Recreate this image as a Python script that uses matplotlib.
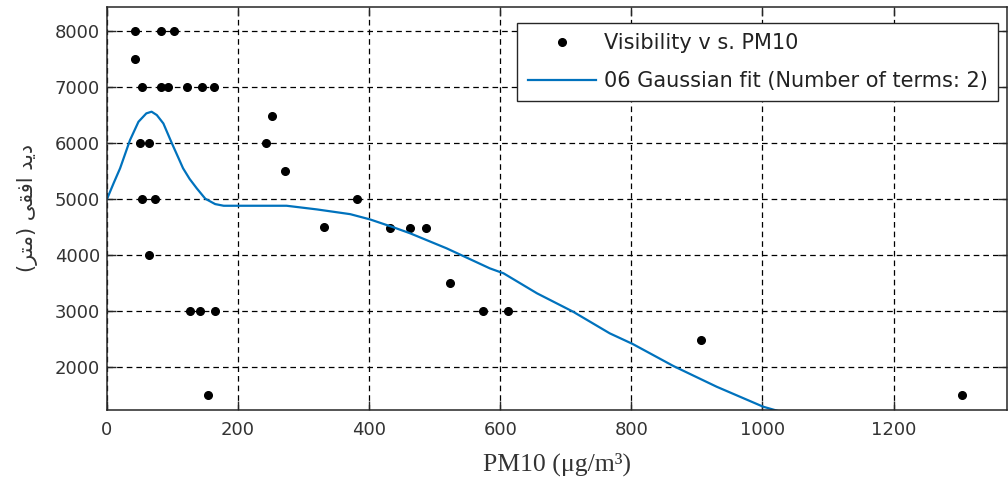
import numpy as np
import matplotlib
matplotlib.use("Agg")
import matplotlib.pyplot as plt

# Measured points: PM10 (ug/m3) vs horizontal visibility (m)
pm10 = [42, 82, 102, 42, 53, 82, 93, 122, 145, 163, 51, 64, 251, 243, 272,
        54, 73, 381, 331, 431, 463, 487, 524, 573, 611, 906, 64, 126, 142,
        164, 154, 1304]
visibility = [8000, 8000, 8000, 7500, 7000, 7000, 7000, 7000, 7000, 7000,
              6000, 6000, 6480, 6000, 5500, 5000, 5000, 5000, 4500, 4480,
              4480, 4480, 3500, 3000, 3000, 2480, 4000, 3000, 3000, 3000,
              1500, 1500]

# Gaussian fit curve
fit_x = [0, 10, 20, 35, 48, 60, 68, 76, 86, 99, 108, 116, 126, 137, 150,
         165, 178, 220, 274, 320, 371, 401, 437, 462, 518, 584, 605, 656,
         711, 767, 802, 864, 930, 1001, 1040]
fit_y = [5000, 5280, 5550, 6050, 6380, 6530, 6560, 6500, 6350, 5995, 5760,
         5550, 5360, 5190, 5005, 4910, 4880, 4880, 4880, 4815, 4730, 4637,
         4495, 4390, 4120, 3762, 3673, 3316, 2988, 2601, 2411, 2018, 1648,
         1291, 1160]

x_ticks = [0, 200, 400, 600, 800, 1000, 1200]
y_ticks = [2000, 3000, 4000, 5000, 6000, 7000, 8000]

# "دید افقی (متر)" in presentation forms, visual order (no shaping in matplotlib)
ylabel_fa = "(\uFEAE\uFE98\uFEE3) \uFEF0\uFED8\uFED3\uFE8D \uFEAA\uFEF3\uFEA9"

fig = plt.figure(figsize=(10.08, 4.83), dpi=100)
ax = fig.add_axes([107 / 1008, 1 - 410 / 483, 900 / 1008, 403 / 483])

ax.plot(pm10, visibility, 'o', color='black', markersize=5.5,
        label='Visibility v s. PM10')
ax.plot(fit_x, fit_y, '-', color='#0072BD', linewidth=1.6,
        label='06 Gaussian fit (Number of terms: 2)')

ax.set_xlim(0, 1373)
ax.set_ylim(1232, 8430)
ax.set_xticks(x_ticks)
ax.set_yticks(y_ticks)

ax.grid(True, color='black', linestyle=(0, (4.5, 3.2)), linewidth=0.9)
ax.set_axisbelow(True)

for s in ax.spines.values():
    s.set_color('#262626')
    s.set_linewidth(1.1)
ax.tick_params(direction='in', length=6.5, width=1.0, color='#262626',
               top=True, right=True, labelsize=13, labelcolor='#333333')
ax.tick_params(axis='x', pad=8)
ax.tick_params(axis='y', pad=5)

ax.set_xlabel('PM10 (\u03bcg/m\u00b3)', family='Liberation Serif',
              fontsize=18.5, color='#333333', labelpad=10)
ax.set_ylabel(ylabel_fa, family='DejaVu Sans', fontsize=15,
              color='#333333', labelpad=12)

leg = ax.legend(loc='upper right', bbox_to_anchor=(0.99, 0.961),
                borderaxespad=0, fontsize=15, handlelength=3.3,
                handletextpad=0.35, labelspacing=0.85, borderpad=0.5,
                fancybox=False, framealpha=1, edgecolor='#262626')
leg.get_frame().set_linewidth(1.0)
for t in leg.get_texts():
    t.set_color('#222222')

fig.savefig('out.png', dpi=100)
